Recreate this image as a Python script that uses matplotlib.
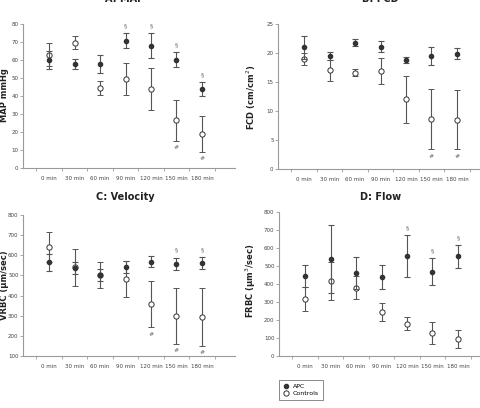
import numpy as np
import matplotlib
matplotlib.use("Agg")
import matplotlib.pyplot as plt
from matplotlib.lines import Line2D

times = ["0 min", "30 min", "60 min", "90 min", "120 min", "150 min", "180 min"]

map_apc = [60.0, 57.7, 58.0, 70.8, 68.0, 60.1, 43.8]
map_apc_err = [5.0, 2.8, 5.0, 4.2, 7.0, 4.2, 3.8]
map_ctl = [63.0, 69.7, 44.5, 49.5, 43.8, 26.4, 18.9]
map_ctl_err = [6.4, 3.5, 3.8, 8.8, 11.7, 11.3, 9.8]

fcd_apc = [21.0, 19.5, 21.8, 21.1, 18.8, 19.5, 19.9]
fcd_apc_err = [2.0, 0.7, 0.65, 1.0, 0.5, 1.6, 1.0]
fcd_ctl = [19.0, 17.0, 16.6, 16.9, 12.0, 8.6, 8.5]
fcd_ctl_err = [1.0, 1.8, 0.6, 2.3, 4.1, 5.2, 5.1]

vrbc_apc = [565, 539, 502, 540, 568, 557, 562]
vrbc_apc_err = [42, 30, 29, 30, 27, 32, 28]
vrbc_ctl = [641, 540, 502, 482, 357, 300, 294]
vrbc_ctl_err = [75, 90, 65, 88, 115, 138, 143]

frbc_apc = [445, 538, 461, 439, 554, 467, 553]
frbc_apc_err = [60, 188, 88, 68, 116, 75, 63]
frbc_ctl = [316, 415, 380, 244, 180, 127, 95]
frbc_ctl_err = [68, 106, 62, 48, 34, 62, 50]

# indices of time points flagged: § above APC, # below controls
map_sect = [3, 4, 5, 6]
map_hash = [5, 6]
fcd_sect = []
fcd_hash = [5, 6]
vrbc_sect = [5, 6]
vrbc_hash = [4, 5, 6]
frbc_sect = [4, 5, 6]
frbc_hash = []

GRAY = "#9a9a9a"
DARK = "#333333"
TXT = "#444444"
W, H = 480.0, 408.0

fig = plt.figure(figsize=(4.8, 4.08), dpi=100)


def panel(rect, title, title_y, ylabel, ylab_pos, apc, apc_err, ctl, ctl_err, ylim, yticks, sect, hsh):
    l, t, r, b = rect
    ax = fig.add_axes([l / W, 1 - b / H, (r - l) / W, (b - t) / H])
    x = np.arange(len(times))
    ax.errorbar(x, ctl, yerr=ctl_err, fmt="o", ms=3.8, mfc="white", mec=DARK, mew=0.7,
                ecolor="#555555", elinewidth=0.8, capsize=2.2, capthick=0.8, zorder=3)
    ax.errorbar(x, apc, yerr=apc_err, fmt="o", ms=3.0, mfc=DARK, mec=DARK,
                ecolor="#555555", elinewidth=0.8, capsize=2.2, capthick=0.8, zorder=4)
    for i in sect:
        ax.annotate("§", (x[i], apc[i] + apc_err[i]), xytext=(0, 5.5), textcoords="offset points",
                    ha="center", va="center", fontsize=4.5, color="#666666")
    for i in hsh:
        ax.annotate("#", (x[i], ctl[i] - ctl_err[i]), xytext=(0, -5), textcoords="offset points",
                    ha="center", va="center", fontsize=4.5, color="#666666")
    ax.set_xlim(-1.03, 7.3)
    ax.set_ylim(*ylim)
    ax.set_yticks(yticks)
    ax.tick_params(axis="y", labelsize=4, colors=GRAY, labelcolor=TXT, length=2, width=0.6, pad=1.2)
    ax.set_xticks(x)
    ax.set_xticklabels(times)
    ax.tick_params(axis="x", length=0, labelsize=4, labelcolor=TXT, pad=6)
    ax.set_xticks(np.arange(-0.5, 7, 1.0), minor=True)
    ax.tick_params(axis="x", which="minor", length=2.5, width=0.6, colors=GRAY)
    for s in ["top", "right"]:
        ax.spines[s].set_visible(False)
    for s in ["left", "bottom"]:
        ax.spines[s].set_color(GRAY)
        ax.spines[s].set_linewidth(0.8)
    fig.text(ylab_pos[0] / W, 1 - ylab_pos[1] / H, ylabel, rotation=90, ha="center", va="center",
             fontsize=6, fontweight="bold", color="#222222")
    fig.text((l + 102) / W, 1 - title_y / H, title, ha="center", va="center",
             fontsize=7, fontweight="bold", color="#222222")
    return ax


panel((23, 24, 235, 168), "A: MAP", -1, "MAP mmHg", (4.5, 95), map_apc, map_apc_err, map_ctl, map_ctl_err,
      (0, 80), np.arange(0, 81, 10), map_sect, map_hash)
panel((278, 24, 490, 169), "B: FCD", -1, "FCD (cm/cm$^2$)", (251, 97), fcd_apc, fcd_apc_err, fcd_ctl, fcd_ctl_err,
      (0, 25), np.arange(0, 26, 5), fcd_sect, fcd_hash)
panel((23, 215, 235, 356), "C: Velocity", 197, "VRBC (µm/sec)", (4.5, 285), vrbc_apc, vrbc_apc_err, vrbc_ctl, vrbc_ctl_err,
      (100, 800), np.arange(100, 801, 100), vrbc_sect, vrbc_hash)
panel((279, 212, 491, 356), "D: Flow", 197, "FRBC (µm$^3$/sec)", (251, 281), frbc_apc, frbc_apc_err, frbc_ctl, frbc_ctl_err,
      (0, 800), np.arange(0, 801, 100), frbc_sect, frbc_hash)

handles = [
    Line2D([], [], ls="none", marker="o", ms=3.0, mfc=DARK, mec=DARK),
    Line2D([], [], ls="none", marker="o", ms=3.8, mfc="white", mec=DARK, mew=0.7),
]
leg = fig.legend(handles, ["APC", "Controls"], loc="center", bbox_to_anchor=(301 / W, 1 - 390 / H),
                 fontsize=4.5, frameon=True, fancybox=False, handlelength=1.0, handletextpad=0.6,
                 borderpad=0.6, labelspacing=0.3)
leg.get_frame().set_edgecolor("#555555")
leg.get_frame().set_linewidth(0.6)

fig.savefig("out.png", dpi=100)
